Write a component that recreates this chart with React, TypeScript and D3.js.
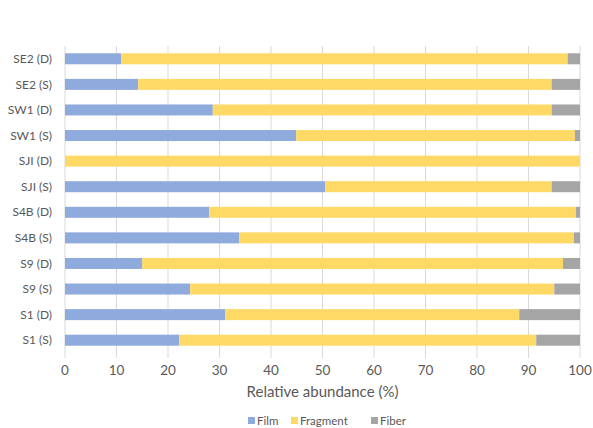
import React from "react";
import * as d3 from "d3";

const sites = [
  "SE2 (D)", "SE2 (S)", "SW1 (D)", "SW1 (S)", "SJI (D)", "SJI (S)",
  "S4B (D)", "S4B (S)", "S9 (D)", "S9 (S)", "S1 (D)", "S1 (S)",
];
const film = [10.9, 14.2, 28.7, 44.9, 0, 50.5, 28.0, 33.8, 15.0, 24.3, 31.1, 22.2];
const fragment = [86.7, 80.3, 65.8, 54.1, 100, 44.0, 71.2, 65.0, 81.7, 70.7, 57.1, 69.3];
const fiber = [2.4, 5.5, 5.5, 1.0, 0, 5.5, 0.8, 1.2, 3.3, 5.0, 11.8, 8.5];

const seriesNames = ["Film", "Fragment", "Fiber"];
const seriesColors = ["#8FAADC", "#FFD966", "#A5A5A5"];
const xTicks = [0, 10, 20, 30, 40, 50, 60, 70, 80, 90, 100];

const W = 593;
const H = 428;
const left = 65;
const right = 580;
const top = 46;
const bottom = 353;
const font = "Lato, 'Open Sans', sans-serif";

export default function App() {
  const x = d3.scaleLinear().domain([0, 100]).range([left, right]);
  const y = d3.scaleBand().domain(sites).range([top, bottom]).paddingInner(0.57).paddingOuter(0.285);

  const rows = sites.map((s, i) => ({ site: s, Film: film[i], Fragment: fragment[i], Fiber: fiber[i] }));
  const stacked = d3.stack<any>().keys(seriesNames)(rows);

  const legendItems = [
    { name: "Film", x: 248 },
    { name: "Fragment", x: 291 },
    { name: "Fiber", x: 371 },
  ];

  return (
    <svg width={W} height={H} style={{ position: "absolute", left: 0, top: 0, background: "#fff" }}>
      {xTicks.map((t) => (
        <line key={"g" + t} x1={x(t)} x2={x(t)} y1={top} y2={bottom} stroke="#D9D9D9" strokeWidth={1} />
      ))}
      {xTicks.map((t) => (
        <line key={"t" + t} x1={x(t)} x2={x(t)} y1={bottom} y2={bottom + 5} stroke="#D9D9D9" strokeWidth={1} />
      ))}
      {stacked.map((layer, li) => (
        <g key={layer.key} fill={seriesColors[li]}>
          {layer.map((d, i) => {
            const w = x(d[1]) - x(d[0]);
            if (w <= 0) return null;
            return (
              <rect key={i} x={x(d[0])} y={y(sites[i])!} width={w} height={y.bandwidth()} />
            );
          })}
        </g>
      ))}
      {sites.map((s) => (
        <text
          key={s}
          x={52}
          y={y(s)! + y.bandwidth() / 2}
          dy="0.35em"
          textAnchor="end"
          fontFamily={font}
          fontSize={12}
          fill="#595959"
        >
          {s}
        </text>
      ))}
      {xTicks.map((t) => (
        <text key={"l" + t} x={x(t)} y={375} textAnchor="middle" fontFamily={font} fontSize={13.5} fill="#595959">
          {t}
        </text>
      ))}
      <text x={(left + right) / 2} y={397} textAnchor="middle" fontFamily={font} fontSize={15} fill="#595959">
        Relative abundance (%)
      </text>
      {legendItems.map((it, i) => (
        <g key={it.name}>
          <rect x={it.x} y={417} width={7} height={7} fill={seriesColors[i]} />
          <text x={it.x + 9} y={424.5} fontFamily={font} fontSize={11.5} fill="#595959">
            {it.name}
          </text>
        </g>
      ))}
    </svg>
  );
}
